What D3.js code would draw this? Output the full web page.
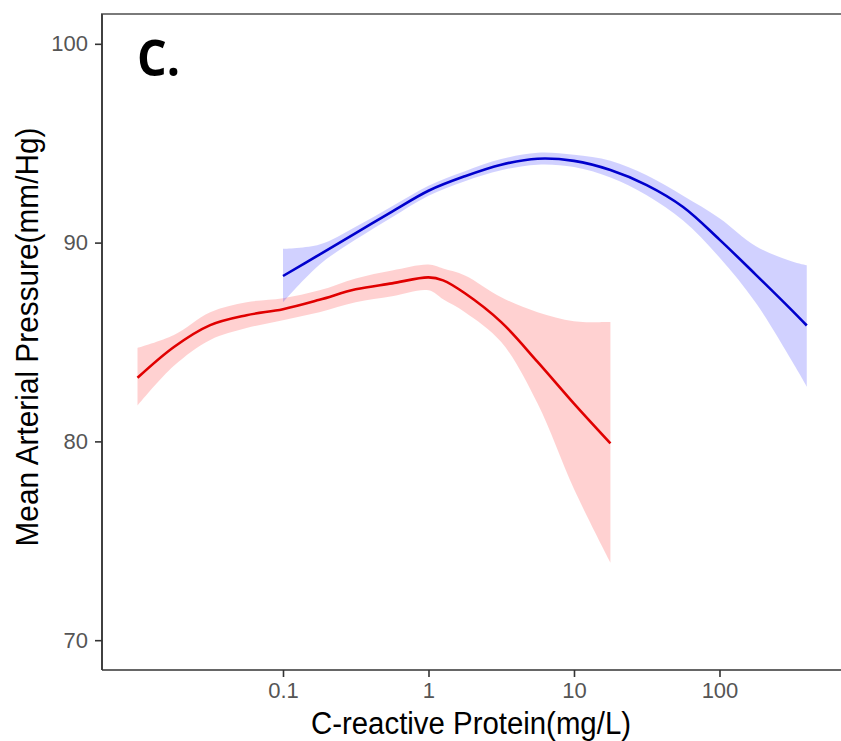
<!DOCTYPE html>
<html lang="en">
<head>
    <meta charset="UTF-8">
    <title>Mean Arterial Pressure vs CRP</title>
    <style>
        html, body { margin: 0; background: #fff; overflow: hidden; }
        svg { display: block; overflow: hidden; }
        .tick text { font-family: "Liberation Sans", Arial, sans-serif; font-size: 22px; fill: #555; }
        .tick line { stroke: #333; stroke-width: 1.6px; }
        .domain { stroke: #333; stroke-width: 1.6px; }
        .title { font-family: "Liberation Sans", Arial, sans-serif; font-size: 31px; fill: #000; }
    </style>
    <script src="https://d3js.org/d3.v7.min.js"></script>
</head>
<body>
    <svg width="841" height="741"></svg>
    <script>
        // red group (CRP in mg/L)
        const redCrp   = [0.01, 0.0178, 0.0316, 0.0562, 0.1, 0.178, 0.316, 0.562, 1, 1.26, 1.78, 3.16, 5.62, 10, 17.8];
        const redMean  = [83.2, 84.75, 85.85, 86.35, 86.65, 87.12, 87.65, 87.95, 88.25, 88.1, 87.45, 86.0, 84.0, 81.9, 79.9];
        const redUpper = [84.7, 85.35, 86.5, 87.0, 87.2, 87.6, 88.2, 88.6, 88.9, 88.7, 88.35, 87.25, 86.5, 86.05, 86.0];
        const redLower = [81.8, 83.8, 85.1, 85.7, 86.1, 86.5, 87.0, 87.3, 87.6, 87.15, 86.5, 85.0, 81.9, 77.6, 73.9];

        // blue group
        const blueCrp   = [0.1, 0.178, 0.316, 0.562, 1, 1.78, 3.16, 5.62, 10, 17.8, 31.6, 56.2, 100, 178, 316, 398];
        const blueMean  = [88.32, 89.4, 90.48, 91.56, 92.61, 93.34, 93.92, 94.22, 94.11, 93.65, 92.89, 91.79, 90.15, 88.38, 86.58, 85.83];
        const blueUpper = [89.68, 89.9, 90.8, 91.83, 92.86, 93.59, 94.2, 94.52, 94.42, 94.12, 93.39, 92.36, 91.23, 89.82, 89.05, 88.86];
        const blueLower = [87.0, 88.89, 90.15, 91.28, 92.36, 93.09, 93.64, 93.92, 93.8, 93.27, 92.38, 91.11, 89.25, 86.96, 84.02, 82.76];

        const xTicks = [0.1, 1, 10, 100];
        const xTickLabels = ["0.1", "1", "10", "100"];
        const yTicks = [70, 80, 90, 100];

        const svg = d3.select("svg");
        const pLeft = 102, pRight = 842, pTop = 14, pBottom = 670;
        const edge = 841;

        const x = d3.scaleLog()
            .domain([Math.pow(10, -2.244), Math.pow(10, 2.842)])
            .range([pLeft, pRight]);
        const y = d3.scaleLinear()
            .domain([68.5, 101.5])
            .range([pBottom, pTop]);

        // panel border: only left and top, the right side is cropped away
        svg.append("path")
            .attr("d", `M${pLeft},${pBottom}V${pTop}H${edge}`)
            .attr("fill", "none")
            .attr("stroke", "#7a7a7a")
            .attr("stroke-width", 2);

        function series(xs, mean, lo, hi, fill, stroke) {
            const rows = xs.map((v, i) => ({ x: v, m: mean[i], lo: lo[i], hi: hi[i] }));
            const area = d3.area()
                .x(d => x(d.x))
                .y0(d => y(d.lo))
                .y1(d => y(d.hi))
                .curve(d3.curveCatmullRom);
            const line = d3.line()
                .x(d => x(d.x))
                .y(d => y(d.m))
                .curve(d3.curveCatmullRom);
            svg.append("path")
                .datum(rows)
                .attr("d", area)
                .attr("fill", fill)
                .attr("fill-opacity", 0.18);
            svg.append("path")
                .datum(rows)
                .attr("d", line)
                .attr("fill", "none")
                .attr("stroke", stroke)
                .attr("stroke-width", 2.6);
        }

        series(redCrp, redMean, redLower, redUpper, "#ff0000", "#e00000");
        series(blueCrp, blueMean, blueLower, blueUpper, "#0000ff", "#0000cc");

        // axes
        svg.append("g")
            .attr("transform", `translate(${pLeft},0)`)
            .call(d3.axisLeft(y).tickValues(yTicks).tickSize(7).tickPadding(7).tickSizeOuter(0))
            .call(g => g.select(".domain").attr("d", `M0,${pTop}V${pBottom}`));

        svg.append("g")
            .attr("transform", `translate(0,${pBottom})`)
            .call(d3.axisBottom(x).tickValues(xTicks)
                .tickFormat((d, i) => xTickLabels[i])
                .tickSize(7).tickPadding(5).tickSizeOuter(0))
            .call(g => g.select(".domain").attr("d", `M${pLeft},0H${edge}`));

        svg.selectAll("g").attr("font-size", null).attr("font-family", null);

        // titles
        svg.append("text")
            .attr("class", "title")
            .attr("x", (pLeft + pRight) / 2 - 1)
            .attr("y", 734)
            .attr("text-anchor", "middle")
            .attr("textLength", 320)
            .attr("lengthAdjust", "spacingAndGlyphs")
            .text("C-reactive Protein(mg/L)");

        svg.append("text")
            .attr("class", "title")
            .attr("transform", "translate(38,337) rotate(-90)")
            .attr("text-anchor", "middle")
            .attr("textLength", 419)
            .attr("lengthAdjust", "spacingAndGlyphs")
            .text("Mean Arterial Pressure(mm/Hg)");

        // panel letter
        svg.append("text")
            .attr("x", 137)
            .attr("y", 76)
            .attr("font-family", "'Open Sans', 'Noto Sans', sans-serif")
            .attr("font-weight", 700)
            .attr("font-size", 50)
            .attr("textLength", 43)
            .attr("lengthAdjust", "spacingAndGlyphs")
            .text("C.");
    </script>
</body>
</html>
